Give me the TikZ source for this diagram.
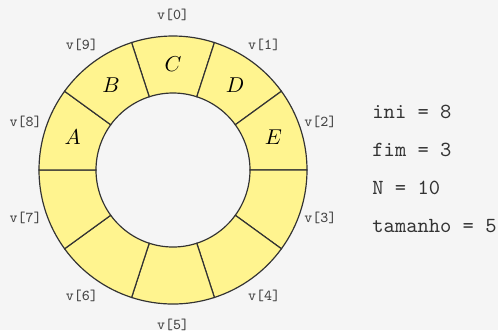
\documentclass[tikz,border=0pt]{standalone}
\usepackage{amsmath,amssymb}
\usepackage{tikz}
\definecolor{bgray}{HTML}{F5F5F5}
\definecolor{slot}{HTML}{FFF48F}
\definecolor{rim}{HTML}{333333}
\definecolor{idx}{HTML}{444444}
\tikzset{
	slotbox/.style={draw=rim, fill=slot, line width=0.55pt},
	idxlabel/.style={text=idx, font=\scriptsize\ttfamily},
	vartext/.style={text=rim, font=\ttfamily, anchor=west, inner sep=0pt}
}

\begin{document}
\begin{tikzpicture}[x=0.465pt, y=0.465pt]
	\useasboundingbox (-173,-160) rectangle (325,170);
	\fill[bgray] (-173,-160) rectangle (325,170);
	% ring of slots
	\foreach \i in {0,...,9} {
		\pgfmathsetmacro{\a}{90-36*\i}
		\draw[slotbox] (\a-18:134) arc[start angle=\a-18, end angle=\a+18, radius=134] -- (\a+18:77) arc[start angle=\a+18, end angle=\a-18, radius=77] -- cycle;
		\node[idxlabel] (v\i) at (\a:155) {v[\i]};
	}
	% stored elements
	\node (elA) at (162:105.5) {$A$};
	\node (elB) at (126:105.5) {$B$};
	\node (elC) at (90:105.5) {$C$};
	\node (elD) at (54:105.5) {$D$};
	\node (elE) at (18:105.5) {$E$};
	% state
	\node[vartext] (ini) at (199,58) {ini = 8};
	\node[vartext] (fim) at ([yshift=-17.7pt] ini.west) {fim = 3};
	\node[vartext] (tot) at ([yshift=-17.7pt] fim.west) {N = 10};
	\node[vartext] (tam) at ([yshift=-17.7pt] tot.west) {tamanho = 5};
\end{tikzpicture}
\end{document}
